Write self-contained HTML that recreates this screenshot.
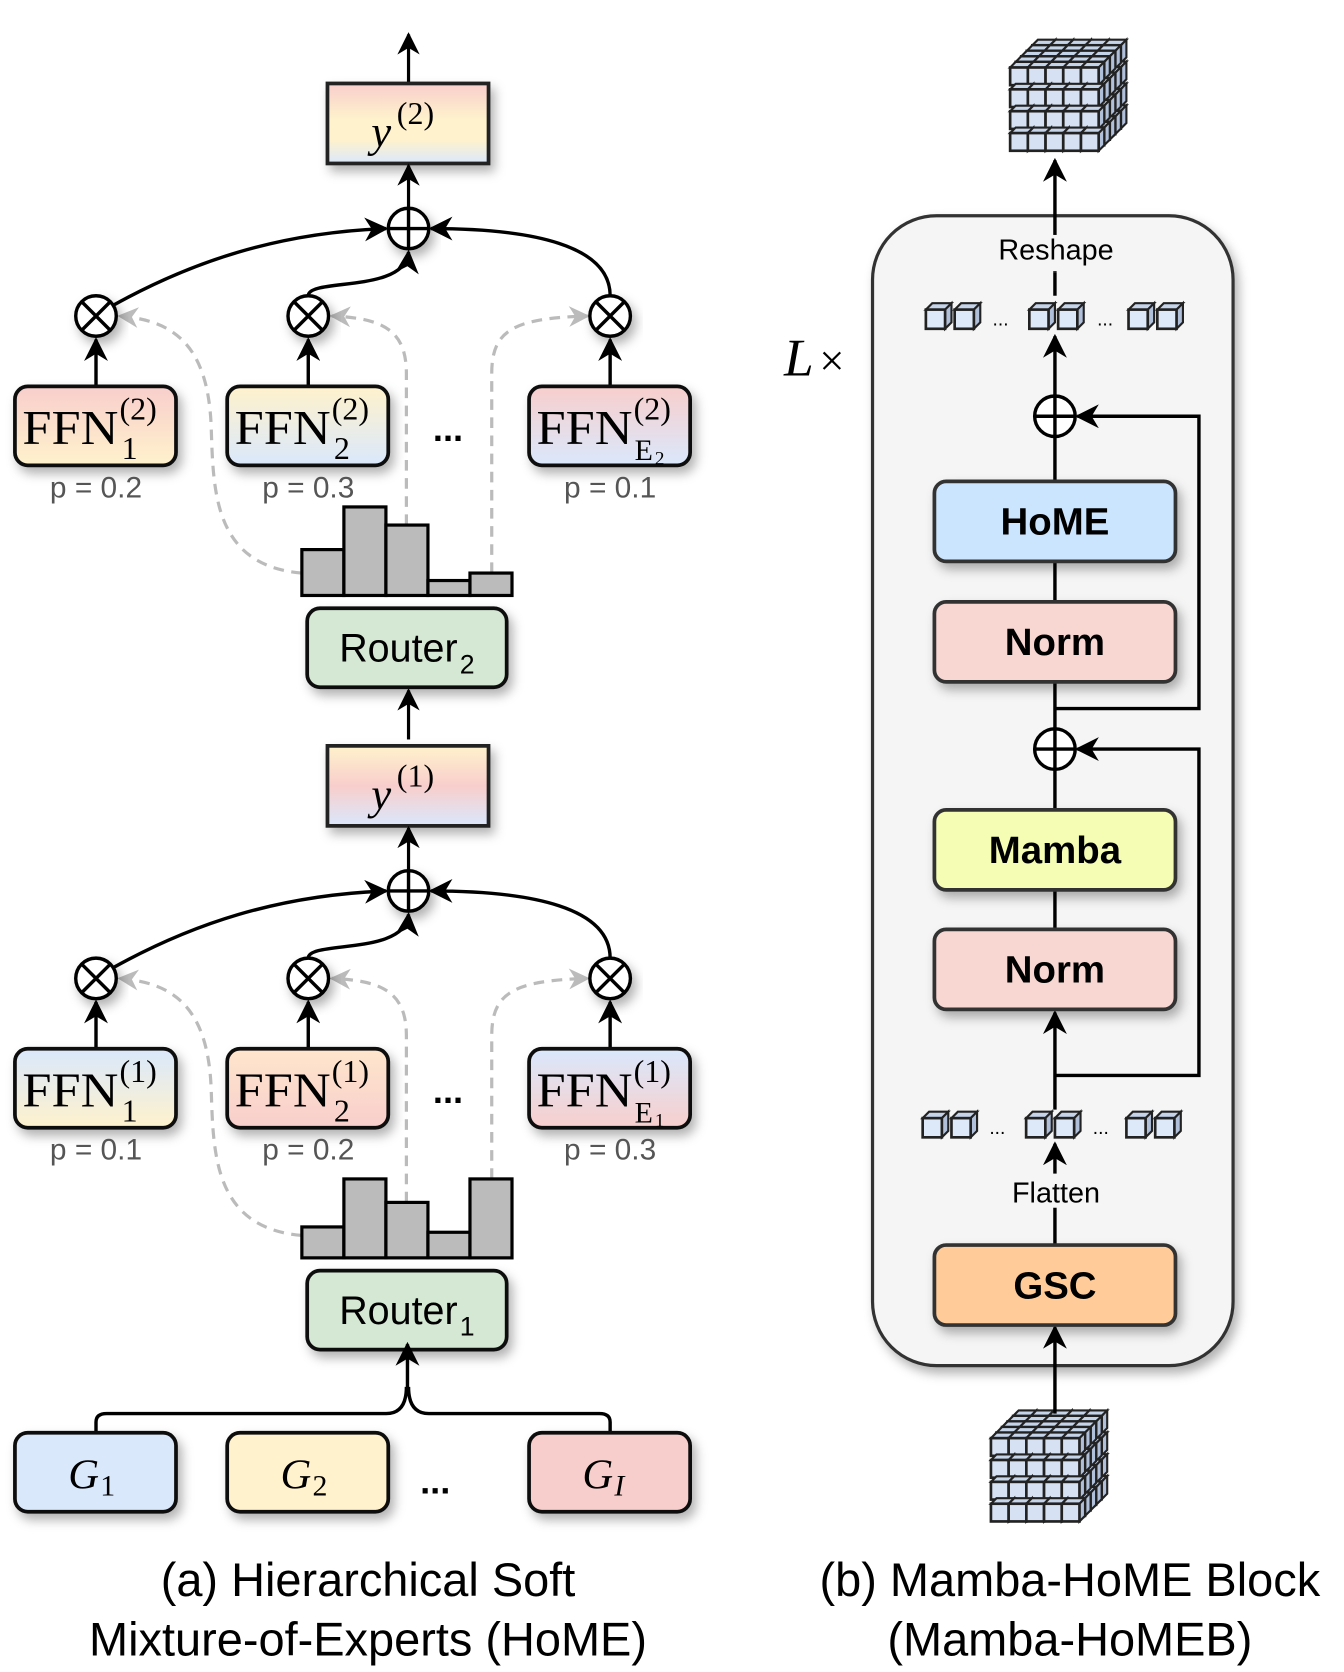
<!DOCTYPE html>
<html><head><meta charset="utf-8"><style>
html,body{margin:0;padding:0;background:#fff;}
svg{display:block;}
text{font-family:"Liberation Sans",sans-serif;}
.serif{font-family:"Liberation Serif",serif;}
</style></head><body>
<svg id="s" width="1344" height="1672" viewBox="0 0 1260 1567" xmlns="http://www.w3.org/2000/svg">
<defs>
<filter id="sh" x="-20%" y="-20%" width="150%" height="160%"><feDropShadow dx="4" dy="6" stdDeviation="5" flood-color="#000" flood-opacity="0.3"/></filter>
<marker id="ar" viewBox="0 0 10 10" refX="9" refY="5" markerWidth="7" markerHeight="7" orient="auto-start-reverse"><path d="M0,0 L10,5 L0,10 L3,5 z" fill="#000"/></marker>
<marker id="ag" viewBox="0 0 10 10" refX="9" refY="5" markerWidth="6.5" markerHeight="6.5" orient="auto"><path d="M0,0 L10,5 L0,10 L3,5 z" fill="#bbb"/></marker>
<linearGradient id="gy2" x1="0" y1="0" x2="0" y2="1"><stop offset="0" stop-color="#f8cecc"/><stop offset="0.45" stop-color="#fff2cc"/><stop offset="0.7" stop-color="#fff2cc"/><stop offset="1" stop-color="#dae8fc"/></linearGradient>
<linearGradient id="gy1" x1="0" y1="0" x2="0" y2="1"><stop offset="0" stop-color="#fff2cc"/><stop offset="0.5" stop-color="#f8cecc"/><stop offset="1" stop-color="#dae8fc"/></linearGradient>
<linearGradient id="f21" x1="0" y1="0" x2="0" y2="1"><stop offset="0" stop-color="#f8cecc"/><stop offset="1" stop-color="#fff2cc"/></linearGradient>
<linearGradient id="f22" x1="0" y1="0" x2="0" y2="1"><stop offset="0" stop-color="#fff2cc"/><stop offset="1" stop-color="#dae8fc"/></linearGradient>
<linearGradient id="f23" x1="0" y1="0" x2="0" y2="1"><stop offset="0" stop-color="#f8cecc"/><stop offset="1" stop-color="#dae8fc"/></linearGradient>
<linearGradient id="f11" x1="0" y1="0" x2="0" y2="1"><stop offset="0" stop-color="#dae8fc"/><stop offset="1" stop-color="#fff2cc"/></linearGradient>
<linearGradient id="f12" x1="0" y1="0" x2="0" y2="1"><stop offset="0" stop-color="#ffe6cc"/><stop offset="1" stop-color="#f8cecc"/></linearGradient>
<linearGradient id="f13" x1="0" y1="0" x2="0" y2="1"><stop offset="0" stop-color="#dae8fc"/><stop offset="1" stop-color="#f8cecc"/></linearGradient>
</defs>

<rect x="818" y="202" width="338" height="1078" rx="60" fill="#f5f5f5" stroke="#333" stroke-width="3" filter="url(#sh)"/>
<text x="735" y="352" class="serif" font-size="50" font-style="italic">L</text>
<text x="768" y="352" class="serif" font-size="42">×</text>

<g id="left"></g>
<g id="right"></g>

<text x="345" y="1496" font-size="44" text-anchor="middle">(a) Hierarchical Soft</text>
<text x="345" y="1552" font-size="44" text-anchor="middle">Mixture-of-Experts (HoME)</text>
<text x="1003" y="1496" font-size="44" text-anchor="middle">(b) Mamba-HoME Block</text>
<text x="1003" y="1552" font-size="44" text-anchor="middle">(Mamba-HoMEB)</text>
</svg>
<script>
function H(id,s){document.getElementById(id).insertAdjacentHTML('beforeend',s);}
function stage(o,lvl,heights,ps,grads,ygrad,rname){
 var s='';
 var y=o;
 s+='<rect x="307" y="'+(78+y)+'" width="151" height="75" fill="url(#'+ygrad+')" stroke="#222" stroke-width="3.5" filter="url(#sh)"/>';
 s+='<text x="348" y="'+(137+y)+'" class="serif" font-size="42" font-style="italic">y</text><text x="372" y="'+(116+y)+'" class="serif" font-size="30">('+lvl+')</text>';
 s+='<line x1="383" y1="'+(195+y)+'" x2="383" y2="'+(155+y)+'" stroke="#000" stroke-width="3" marker-end="url(#ar)"/>';
 var g='stroke="#bbb" stroke-width="3" stroke-dasharray="10,7" fill="none"';
 s+='<path d="M283,'+(537+y)+' C200,'+(530+y)+' 200,'+(460+y)+' 198,'+(400+y)+' C195,'+(320+y)+' 160,'+(300+y)+' 112,'+(296+y)+'" '+g+' marker-end="url(#ag)"/>';
 s+='<path d="M381,'+heights[2]+' L381,'+(350+y)+' C381,'+(310+y)+' 360,'+(298+y)+' 311,'+(296+y)+'" '+g+' marker-end="url(#ag)"/>';
 s+='<path d="M461,'+(heights[4])+' L461,'+(350+y)+' C461,'+(310+y)+' 480,'+(298+y)+' 551,'+(296+y)+'" '+g+' marker-end="url(#ag)"/>';
 s+='<path d="M106,'+(286+y)+' C180,'+(245+y)+' 260,'+(218+y)+' 362,'+(214+y)+'" stroke="#000" stroke-width="3.2" fill="none" marker-end="url(#ar)"/>';
 s+='<path d="M289,'+(277+y)+' C289,'+(260+y)+' 380,'+(275+y)+' 383,'+(236+y)+'" stroke="#000" stroke-width="3.2" fill="none" marker-end="url(#ar)"/>';
 s+='<path d="M572,'+(277+y)+' C572,'+(230+y)+' 500,'+(214+y)+' 404,'+(214+y)+'" stroke="#000" stroke-width="3.2" fill="none" marker-end="url(#ar)"/>';
 s+='<circle cx="383" cy="'+(214+y)+'" r="19" fill="#fff" stroke="#000" stroke-width="3.2" filter="url(#sh)"/><path d="M364,'+(214+y)+' h38 M383,'+(195+y)+' v38" stroke="#000" stroke-width="3.2"/>';
 var xs=[90,289,572], bx=[14,213,496];
 var subs=['1','2','E'];
 for(var i=0;i<3;i++){
  var cx=xs[i],cy=296+y;
  s+='<line x1="'+cx+'" y1="'+(362+y)+'" x2="'+cx+'" y2="'+(318+y)+'" stroke="#000" stroke-width="3.2" marker-end="url(#ar)"/>';
  s+='<circle cx="'+cx+'" cy="'+cy+'" r="19" fill="#fff" stroke="#000" stroke-width="3.2" filter="url(#sh)"/>';
  s+='<path d="M'+(cx-13)+','+(cy-13)+' l26,26 M'+(cx+13)+','+(cy-13)+' l-26,26" stroke="#000" stroke-width="3.2"/>';
  s+='<rect x="'+bx[i]+'" y="'+(362+y)+'" width="151" height="74" rx="12" fill="url(#'+grads[i]+')" stroke="#111" stroke-width="3.5" filter="url(#sh)"/>';
  s+='<text x="'+(bx[i]+7)+'" y="'+(416+y)+'" class="serif" font-size="46" textLength="90" lengthAdjust="spacingAndGlyphs">FFN</text>';
  s+='<text x="'+(bx[i]+98)+'" y="'+(393+y)+'" class="serif" font-size="30">('+lvl+')</text>';
  if(i<2) s+='<text x="'+(bx[i]+100)+'" y="'+(430+y)+'" class="serif" font-size="30">'+subs[i]+'</text>';
  else s+='<text x="'+(bx[i]+99)+'" y="'+(431+y)+'" class="serif" font-size="28">E</text><text x="'+(bx[i]+118)+'" y="'+(435+y)+'" class="serif" font-size="18">'+lvl+'</text>';
  s+='<text x="'+cx+'" y="'+(466+y)+'" font-size="28" fill="#555" text-anchor="middle">p = '+ps[i]+'</text>';
 }
 s+='<text x="420" y="'+(413+y)+'" font-size="34" text-anchor="middle" font-weight="bold">...</text>';
 var base=558+y;
 for(var k=0;k<5;k++){var x=283+k*39.4;s+='<rect x="'+x+'" y="'+heights[k]+'" width="39.4" height="'+(base-heights[k])+'" fill="#bbb" stroke="#000" stroke-width="3"/>';}
 s+='<rect x="288" y="'+(570+y)+'" width="187" height="74" rx="12" fill="#d5e8d4" stroke="#111" stroke-width="3.5" filter="url(#sh)"/>';
 s+='<text x="318" y="'+(620+y)+'" font-size="37">Router</text><text x="431" y="'+(631+y)+'" font-size="25">'+rname+'</text>';
 return s;
}
var L='';
L+='<line x1="383" y1="78" x2="383" y2="32" stroke="#000" stroke-width="3" marker-end="url(#ar)"/>';
L+='<line x1="383" y1="693" x2="383" y2="647" stroke="#000" stroke-width="3" marker-end="url(#ar)"/>';
L+=stage(0,2,[515,475,492,544,537],['0.2','0.3','0.1'],['f21','f22','f23'],'gy2','2');
L+=stage(621,1,[1150,1105,1127,1155,1105],['0.1','0.2','0.3'],['f11','f12','f13'],'gy1','1');
L+='<path d="M90,1343 V1333 Q90,1325 100,1325 H362 Q381,1325 381,1300 M572,1343 V1333 Q572,1325 562,1325 H402 Q383,1325 383,1300" stroke="#000" stroke-width="3.2" fill="none"/>';
L+='<line x1="382" y1="1305" x2="382" y2="1260" stroke="#000" stroke-width="3.2" marker-end="url(#ar)"/>';
var gb=[[14,'#dae8fc','1'],[213,'#fff2cc','2'],[496,'#f8cecc','I']];
gb.forEach(function(g){L+='<rect x="'+g[0]+'" y="1343" width="151" height="74" rx="12" fill="'+g[1]+'" stroke="#111" stroke-width="3.5" filter="url(#sh)"/>';
 L+='<text x="'+(g[0]+50)+'" y="1395" class="serif" font-size="40" font-style="italic">G</text><text x="'+(g[0]+80)+'" y="1402" class="serif" font-size="28"'+(g[2]=='I'?' font-style="italic"':'')+'>'+g[2]+'</text>';});
L+='<text x="408" y="1400" font-size="34" text-anchor="middle" font-weight="bold">...</text>';
H('left',L);

function cube(x,y,s,d,fill){
 var r='';
 r+='<polygon points="'+x+','+y+' '+(x+d)+','+(y-d)+' '+(x+s+d)+','+(y-d)+' '+(x+s)+','+y+'" fill="#c6d4ea" stroke="#222" stroke-width="2"/>';
 r+='<polygon points="'+(x+s)+','+y+' '+(x+s+d)+','+(y-d)+' '+(x+s+d)+','+(y+s-d)+' '+(x+s)+','+(y+s)+'" fill="#b0c0da" stroke="#222" stroke-width="2"/>';
 r+='<rect x="'+x+'" y="'+y+'" width="'+s+'" height="'+s+'" fill="'+fill+'" stroke="#222" stroke-width="2.5"/>';
 return r;
}
function bigcube(x0,y0){
 var r='',c=16.6,h=20.5,d=5.2;
 for(var z=4;z>=0;z--){
  for(var row=0;row<4;row++){
   for(var col=0;col<5;col++){
    var x=x0+col*c+z*d, y=y0+row*h-z*d;
    if(z>0 && row>0 && col<4) continue;
    r+=cube(x,y,c,d,'#d6e2f3');
   }
  }
 }
 return r;
}
function smallrow(y,xs){var r='';xs.forEach(function(x){r+=cube(x,y,18,6,'#dde8f8');});return r;}
var R='';
R+=bigcube(947,63);
R+=bigcube(929,1348);
R+='<line x1="989" y1="255" x2="989" y2="150" stroke="#000" stroke-width="3.2" marker-end="url(#ar)"/>';
R+='<rect x="930" y="220" width="120" height="34" fill="#f5f5f5"/>';
R+='<text x="990" y="243" font-size="27" text-anchor="middle">Reshape</text>';
R+='<line x1="989" y1="255" x2="989" y2="277" stroke="#000" stroke-width="3.2"/>';
R+=smallrow(290,[868,895,965,992,1058,1085]);
R+='<text x="938" y="305" font-size="18" text-anchor="middle">...</text><text x="1036" y="305" font-size="18" text-anchor="middle">...</text>';
R+=smallrow(1048,[865,892,962,989,1056,1083]);
R+='<text x="935" y="1063" font-size="18" text-anchor="middle">...</text><text x="1032" y="1063" font-size="18" text-anchor="middle">...</text>';
R+='<line x1="989" y1="451" x2="989" y2="315" stroke="#000" stroke-width="3.2" marker-end="url(#ar)"/>';
R+='<line x1="989" y1="526" x2="989" y2="564" stroke="#000" stroke-width="3.2"/>';
R+='<line x1="989" y1="638" x2="989" y2="759" stroke="#000" stroke-width="3.2"/>';
R+='<line x1="989" y1="833" x2="989" y2="871" stroke="#000" stroke-width="3.2"/>';
R+='<line x1="989" y1="1040" x2="989" y2="949" stroke="#000" stroke-width="3.2" marker-end="url(#ar)"/>';
R+='<line x1="989" y1="1167" x2="989" y2="1072" stroke="#000" stroke-width="3.2" marker-end="url(#ar)"/>';
R+='<rect x="940" y="1100" width="100" height="32" fill="#f5f5f5"/>';
R+='<text x="990" y="1127" font-size="27" text-anchor="middle">Flatten</text>';
R+='<line x1="989" y1="1325" x2="989" y2="1244" stroke="#000" stroke-width="3.2" marker-end="url(#ar)"/>';
R+='<path d="M989,664 H1124 V390 H1010" stroke="#000" stroke-width="3.2" fill="none" marker-end="url(#ar)"/>';
R+='<path d="M989,1008 H1124 V702 H1010" stroke="#000" stroke-width="3.2" fill="none" marker-end="url(#ar)"/>';
[390,702].forEach(function(cy){R+='<circle cx="989" cy="'+cy+'" r="19" fill="#fff" stroke="#000" stroke-width="3.2"/><path d="M970,'+cy+' h38 M989,'+(cy-19)+' v38" stroke="#000" stroke-width="3.2"/>';});
var bx=[[451,'#cce5ff','HoME'],[564,'#f8d7d3','Norm'],[759,'#f4fdb3','Mamba'],[871,'#f8d7d3','Norm'],[1167,'#ffcc99','GSC']];
bx.forEach(function(b){R+='<rect x="876" y="'+b[0]+'" width="226" height="75" rx="11" fill="'+b[1]+'" stroke="#333" stroke-width="3.5" filter="url(#sh)"/><text x="989" y="'+(b[0]+50)+'" font-size="36" font-weight="bold" text-anchor="middle">'+b[2]+'</text>';});
H('right',R);
</script>
</body></html>
